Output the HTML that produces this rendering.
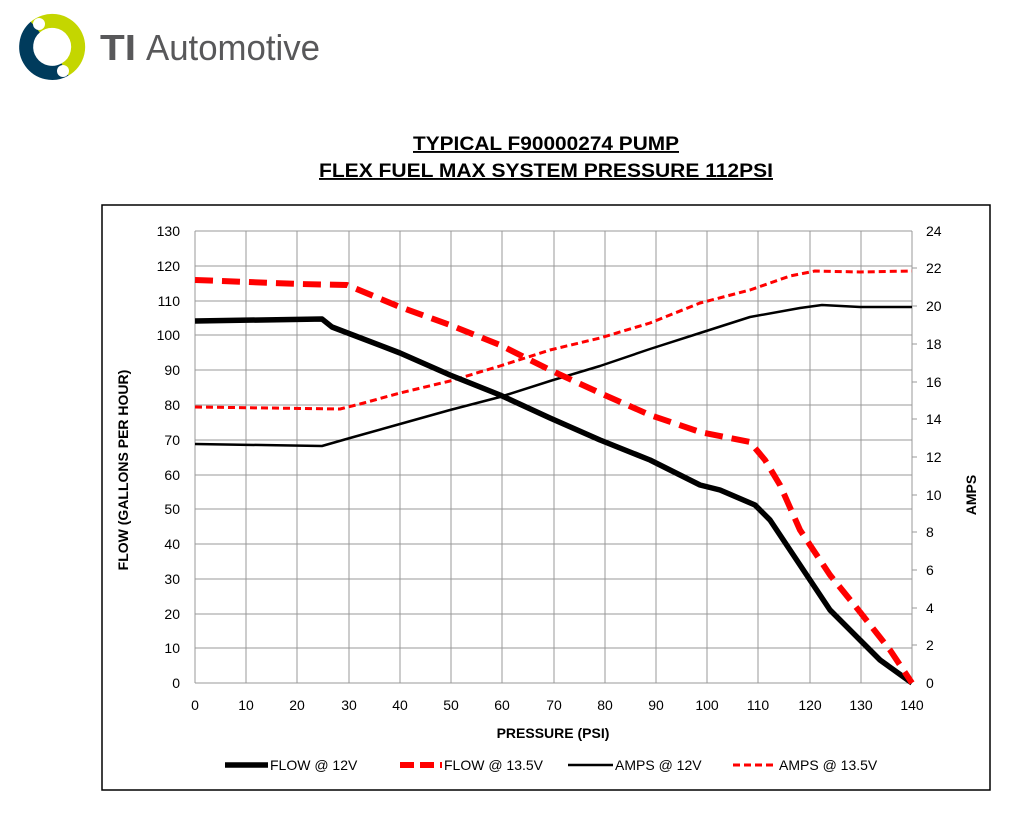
<!DOCTYPE html>
<html><head><meta charset="utf-8"><style>
body{margin:0;background:#fff;width:1013px;height:810px;overflow:hidden;font-family:"Liberation Sans",sans-serif;}
</style></head><body>
<svg width="1013" height="810" xmlns="http://www.w3.org/2000/svg" font-family="Liberation Sans, sans-serif">
<!-- logo -->
<path d="M35.3,27.1 A26,26 0 1,1 65,69.5" fill="none" stroke="#c4d600" stroke-width="14"/>
<path d="M65,69.5 A26,26 0 0,1 35.3,27.1" fill="none" stroke="#003b5c" stroke-width="14"/>
<circle cx="39" cy="24" r="6" fill="#fff"/><circle cx="63" cy="71" r="6" fill="#fff"/>
<text x="100" y="60" font-size="36" fill="#58585a" font-weight="bold" textLength="36" lengthAdjust="spacingAndGlyphs">TI</text>
<text x="146" y="60" font-size="36" fill="#58585a" textLength="174" lengthAdjust="spacingAndGlyphs">Automotive</text>
<!-- title -->
<text x="413" y="150" font-size="19" font-weight="bold" text-decoration="underline" textLength="266" lengthAdjust="spacingAndGlyphs">TYPICAL F90000274 PUMP</text>
<text x="319" y="177" font-size="19" font-weight="bold" text-decoration="underline" textLength="454" lengthAdjust="spacingAndGlyphs">FLEX FUEL MAX SYSTEM PRESSURE 112PSI</text>
<rect x="102" y="205" width="888" height="585" fill="none" stroke="#000" stroke-width="1.5"/>
<g stroke="#999" stroke-width="1">
<line x1="195" y1="231" x2="912" y2="231"/><line x1="195" y1="266" x2="912" y2="266"/><line x1="195" y1="301" x2="912" y2="301"/><line x1="195" y1="335" x2="912" y2="335"/><line x1="195" y1="370" x2="912" y2="370"/><line x1="195" y1="405" x2="912" y2="405"/><line x1="195" y1="440" x2="912" y2="440"/><line x1="195" y1="475" x2="912" y2="475"/><line x1="195" y1="509" x2="912" y2="509"/><line x1="195" y1="544" x2="912" y2="544"/><line x1="195" y1="579" x2="912" y2="579"/><line x1="195" y1="614" x2="912" y2="614"/><line x1="195" y1="648" x2="912" y2="648"/><line x1="195" y1="683" x2="912" y2="683"/>
<line x1="195" y1="231" x2="195" y2="683"/><line x1="246" y1="231" x2="246" y2="683"/><line x1="297" y1="231" x2="297" y2="683"/><line x1="349" y1="231" x2="349" y2="683"/><line x1="400" y1="231" x2="400" y2="683"/><line x1="451" y1="231" x2="451" y2="683"/><line x1="502" y1="231" x2="502" y2="683"/><line x1="554" y1="231" x2="554" y2="683"/><line x1="605" y1="231" x2="605" y2="683"/><line x1="656" y1="231" x2="656" y2="683"/><line x1="707" y1="231" x2="707" y2="683"/><line x1="758" y1="231" x2="758" y2="683"/><line x1="810" y1="231" x2="810" y2="683"/><line x1="861" y1="231" x2="861" y2="683"/><line x1="912" y1="231" x2="912" y2="683"/>
</g>
<g stroke="#999"><line x1="912" y1="268" x2="917" y2="268"/><line x1="912" y1="306" x2="917" y2="306"/><line x1="912" y1="344" x2="917" y2="344"/><line x1="912" y1="382" x2="917" y2="382"/><line x1="912" y1="419" x2="917" y2="419"/><line x1="912" y1="457" x2="917" y2="457"/><line x1="912" y1="495" x2="917" y2="495"/><line x1="912" y1="532" x2="917" y2="532"/><line x1="912" y1="570" x2="917" y2="570"/><line x1="912" y1="608" x2="917" y2="608"/><line x1="912" y1="645" x2="917" y2="645"/></g>
<g font-size="14" text-anchor="end" fill="#000">
<text x="180" y="236">130</text><text x="180" y="271">120</text><text x="180" y="306">110</text><text x="180" y="340">100</text><text x="180" y="375">90</text><text x="180" y="410">80</text><text x="180" y="445">70</text><text x="180" y="480">60</text><text x="180" y="514">50</text><text x="180" y="549">40</text><text x="180" y="584">30</text><text x="180" y="619">20</text><text x="180" y="653">10</text><text x="180" y="688">0</text>
</g>
<g font-size="14" text-anchor="start">
<text x="926" y="236">24</text><text x="926" y="273">22</text><text x="926" y="311">20</text><text x="926" y="349">18</text><text x="926" y="387">16</text><text x="926" y="424">14</text><text x="926" y="462">12</text><text x="926" y="500">10</text><text x="926" y="537">8</text><text x="926" y="575">6</text><text x="926" y="613">4</text><text x="926" y="650">2</text><text x="926" y="688">0</text>
</g>
<g font-size="14" text-anchor="middle">
<text x="195" y="710">0</text><text x="246" y="710">10</text><text x="297" y="710">20</text><text x="349" y="710">30</text><text x="400" y="710">40</text><text x="451" y="710">50</text><text x="502" y="710">60</text><text x="554" y="710">70</text><text x="605" y="710">80</text><text x="656" y="710">90</text><text x="707" y="710">100</text><text x="758" y="710">110</text><text x="810" y="710">120</text><text x="861" y="710">130</text><text x="912" y="710">140</text>
</g>
<text x="553" y="738" font-size="14" font-weight="bold" text-anchor="middle">PRESSURE (PSI)</text>
<text transform="translate(128,470) rotate(-90)" font-size="14" font-weight="bold" text-anchor="middle">FLOW (GALLONS PER HOUR)</text>
<text transform="translate(976,495) rotate(-90)" font-size="14" font-weight="bold" text-anchor="middle">AMPS</text>
<g fill="none" stroke-linejoin="round">
<polyline stroke="#000" stroke-width="2.5" points="195,444 322,446 350,438 400,424 450,410 500,397 550,381 600,366 650,349 700,333 750,317 800,308 822,305 860,307 912,307"/>
<polyline stroke="#f00" stroke-width="3" stroke-dasharray="7,4" points="195,407 340,409 360,404 400,393 450,381 500,366 550,350 600,338 650,323 700,303 750,290 790,276 815,271 860,272 912,271"/>
<polyline stroke="#000" stroke-width="5.5" points="195,321 322,319 332,327 400,353 450,375 500,395 550,418 600,440 650,460 700,485 720,490 755,505 770,520 800,565 830,610 860,640 880,660 912,683"/>
<polyline stroke="#f00" stroke-width="6" stroke-dasharray="18,9" points="195,280 300,284 347,285 400,307 450,325 500,345 550,370 600,393 650,415 700,432 750,442 765,460 780,485 800,530 830,575 860,612 890,650 912,683"/>
</g>
<g font-size="14">
<line x1="225" y1="765" x2="268" y2="765" stroke="#000" stroke-width="5.5"/><text x="270" y="770">FLOW @ 12V</text>
<line x1="400" y1="765" x2="442" y2="765" stroke="#f00" stroke-width="6" stroke-dasharray="14,6"/><text x="444" y="770">FLOW @ 13.5V</text>
<line x1="568" y1="765" x2="613" y2="765" stroke="#000" stroke-width="2.5"/><text x="615" y="770">AMPS @ 12V</text>
<line x1="733" y1="765" x2="777" y2="765" stroke="#f00" stroke-width="3" stroke-dasharray="7,4"/><text x="779" y="770">AMPS @ 13.5V</text>
</g>
</svg>
</body></html>
